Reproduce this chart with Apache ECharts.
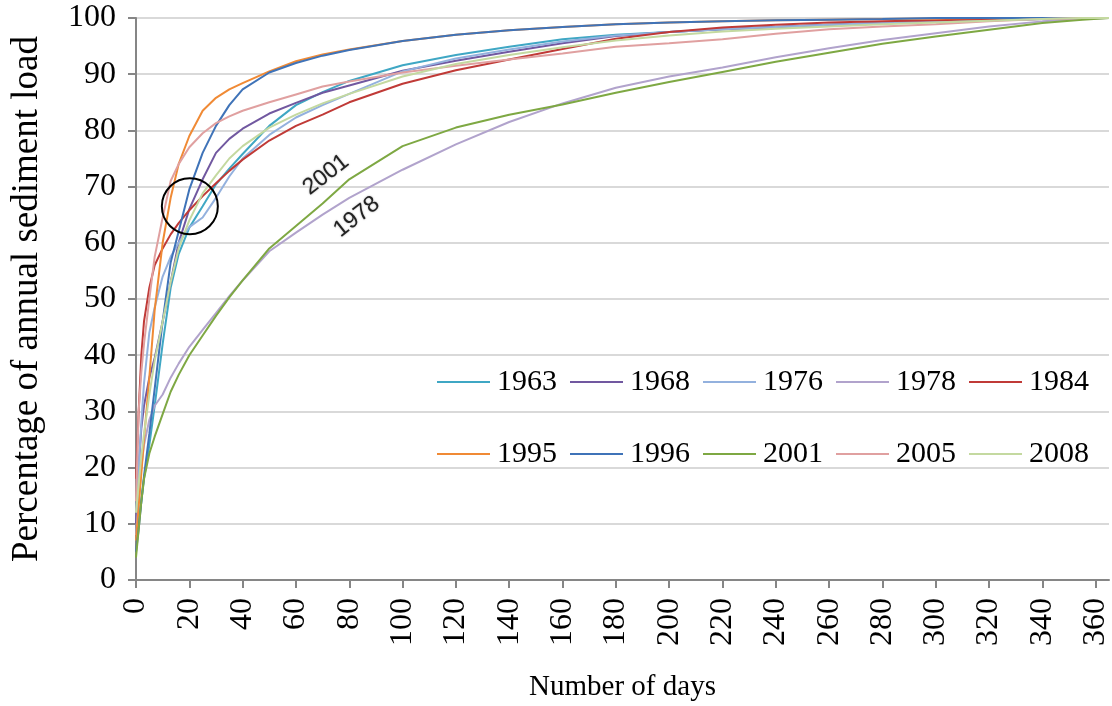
<!DOCTYPE html>
<html>
<head>
<meta charset="utf-8">
<script src="https://cdn.jsdelivr.net/npm/echarts@6/dist/echarts.min.js"></script>
<style>
  html, body { margin: 0; padding: 0; background: #fff; }
  #chart { width: 1112px; height: 706px; }
</style>
</head>
<body>
<div id="chart"></div>
<script>
// day of the year at which each cumulative value is read
const days = [0, 1, 2, 3, 5, 7, 10, 13, 16, 20, 25, 30, 35, 40, 50, 60, 70, 80, 100, 120, 140, 160, 180, 200, 220, 240, 260, 280, 300, 320, 340, 355, 365];

// cumulative % of annual sediment load, one array per year
const s1963 = [7, 10, 14, 18, 24, 31, 42, 52, 58, 62.7, 66.5, 70.4, 73.2, 75.8, 80.8, 84.5, 86.8, 88.8, 91.6, 93.4, 94.9, 96.2, 97, 97.5, 98, 98.4, 98.8, 99.1, 99.4, 99.6, 99.8, 100, 100];
const s1968 = [10, 20, 27, 31, 36, 39.5, 46, 53, 60, 66, 71.3, 76, 78.5, 80.3, 83, 84.9, 86.7, 88, 90.6, 92.4, 94, 95.5, 96.8, 97.5, 98, 98.4, 98.8, 99.1, 99.4, 99.6, 99.8, 100, 100];
const s1976 = [12, 20, 28, 35, 44, 48.5, 54, 57.5, 60, 62.8, 64.5, 68, 71.8, 75, 79.2, 82.3, 84.5, 86.5, 90.5, 92.8, 94.4, 95.8, 96.9, 97.5, 98, 98.4, 98.8, 99.1, 99.4, 99.6, 99.8, 100, 100];
const s1978 = [8, 14, 20, 24, 28.5, 31, 33, 36, 38.5, 41.5, 44.5, 47.5, 50.5, 53.3, 58.5, 61.8, 65, 68, 73, 77.5, 81.5, 84.8, 87.6, 89.6, 91.2, 93, 94.6, 96.1, 97.3, 98.5, 99.4, 99.8, 100];
const s1984 = [18, 30, 40, 46, 52, 56, 59, 61.5, 63.5, 65.8, 68.3, 70.6, 72.8, 74.8, 78.2, 80.8, 82.8, 85, 88.3, 90.7, 92.6, 94.5, 96.3, 97.5, 98.3, 98.8, 99.2, 99.4, 99.6, 99.8, 99.9, 100, 100];
const s1995 = [7, 13, 19, 25, 36, 48, 60, 68, 74, 79, 83.5, 85.8, 87.3, 88.4, 90.5, 92.3, 93.5, 94.4, 95.9, 97, 97.8, 98.4, 98.9, 99.2, 99.4, 99.6, 99.7, 99.8, 99.9, 100, 100, 100, 100];
const s1996 = [5, 9, 14, 18.5, 26, 34, 46, 56.5, 62, 69.5, 76, 80.8, 84.5, 87.3, 90.3, 92, 93.3, 94.3, 95.9, 97, 97.8, 98.4, 98.9, 99.2, 99.4, 99.6, 99.7, 99.8, 100, 100, 100, 100, 100];
const s2001 = [4, 9, 14, 18, 22.5, 25.5, 29.5, 33.5, 36.5, 40, 43.5, 47, 50.3, 53.3, 59, 63, 67, 71.3, 77.2, 80.5, 82.8, 84.6, 86.7, 88.6, 90.4, 92.2, 93.8, 95.4, 96.7, 97.9, 99.1, 99.7, 100];
const s2005 = [14, 30, 37, 42, 50, 57.5, 64.5, 71, 74, 77, 79.5, 81.3, 82.5, 83.5, 85, 86.4, 87.8, 88.7, 90.3, 91.5, 92.6, 93.7, 94.9, 95.5, 96.2, 97.2, 98, 98.5, 98.9, 99.4, 99.8, 100, 100];
const s2008 = [12, 17, 22, 26, 33, 39, 46, 53, 59, 64, 68.8, 72, 75, 77.2, 80.5, 82.8, 84.8, 86.5, 89.6, 91.8, 93.4, 94.8, 96, 96.9, 97.6, 98.1, 98.5, 98.9, 99.2, 99.5, 99.8, 100, 100];

const years = ['1963', '1968', '1976', '1978', '1984', '1995', '1996', '2001', '2005', '2008'];
const values = [s1963, s1968, s1976, s1978, s1984, s1995, s1996, s2001, s2005, s2008];
const colors = ['#3fa7c4', '#7158a0', '#93b1de', '#b1a3cc', '#c03a37', '#f08a35', '#3f73b8', '#7ea843', '#e0a0a0', '#c4d9a0'];

// x tick labels
const xTicks = [0, 20, 40, 60, 80, 100, 120, 140, 160, 180, 200, 220, 240, 260, 280, 300, 320, 340, 360];

const serif = '"Liberation Serif", "Times New Roman", serif';

let chart = echarts.init(document.getElementById('chart'), null, { renderer: 'canvas' });

let series = years.map((y, k) => ({
  name: y,
  type: 'line',
  symbol: 'none',
  showSymbol: false,
  silent: true,
  color: colors[k],
  lineStyle: { width: 2, color: colors[k] },
  data: days.map((d, i) => [d, values[k][i]])
}));

// circle round the crossing point
series[0].markPoint = {
  silent: true,
  symbol: 'circle',
  symbolSize: 56,
  itemStyle: { color: 'rgba(0,0,0,0)', borderColor: '#000', borderWidth: 2 },
  label: { show: false },
  data: [{ coord: [20.2, 66.5] }]
};

// text on the two slow curves
function curveLabel(txt, coord) {
  return {
    silent: true,
    symbol: 'circle',
    symbolSize: 1,
    itemStyle: { color: 'rgba(0,0,0,0)' },
    label: {
      show: true,
      position: 'inside',
      formatter: txt,
      rotate: 38,
      fontSize: 23,
      fontFamily: '"Liberation Sans", Arial, sans-serif',
      color: '#222',
      textShadowColor: 'rgba(0,0,0,0.35)',
      textShadowBlur: 2
    },
    data: [{ coord: coord }]
  };
}
series[7].markPoint = curveLabel('2001', [71.3, 72.1]);
series[3].markPoint = curveLabel('1978', [82.8, 64.6]);

function legendRow(items, top) {
  return {
    data: items,
    left: 437,
    top: top,
    orient: 'horizontal',
    padding: 0,
    icon: 'rect',
    itemWidth: 53,
    itemHeight: 2,
    itemGap: 13,
    selectedMode: false,
    textStyle: { fontFamily: serif, fontSize: 30, color: '#000', padding: [0, 0, 0, 2] }
  };
}

let option = {
  animation: false,
  backgroundColor: '#fff',
  grid: { left: 136, right: 3, top: 18, bottom: 126, containLabel: false, outerBoundsMode: 'none' },
  legend: [
    legendRow(years.slice(0, 5), 367),
    legendRow(years.slice(5), 439)
  ],
  xAxis: {
    type: 'value',
    min: 0,
    max: 365,
    interval: 20,
    name: 'Number of days',
    nameLocation: 'middle',
    nameGap: 93,
    nameTextStyle: { fontFamily: serif, fontSize: 29, color: '#000' },
    axisLine: { show: true, onZero: false, lineStyle: { color: '#868686', width: 2 } },
    axisTick: { show: true, length: 8, customValues: xTicks, lineStyle: { color: '#868686', width: 2 } },
    axisLabel: {
      customValues: xTicks,
      rotate: 90,
      margin: 18,
      fontFamily: serif,
      fontSize: 32,
      color: '#000'
    },
    splitLine: { show: false }
  },
  yAxis: {
    type: 'value',
    min: 0,
    max: 100,
    interval: 10,
    name: 'Percentage of annual sediment load',
    nameLocation: 'middle',
    nameGap: 90,
    nameTextStyle: { fontFamily: serif, fontSize: 37, color: '#000' },
    axisLine: { show: true, lineStyle: { color: '#868686', width: 2 } },
    axisTick: { show: true, length: 8, lineStyle: { color: '#868686', width: 2 } },
    axisLabel: { margin: 20, fontFamily: serif, fontSize: 32, color: '#000' },
    splitLine: { show: true, lineStyle: { color: '#d9d9d9', width: 2 } }
  },
  series: series
};

chart.setOption(option);
</script>
</body>
</html>
